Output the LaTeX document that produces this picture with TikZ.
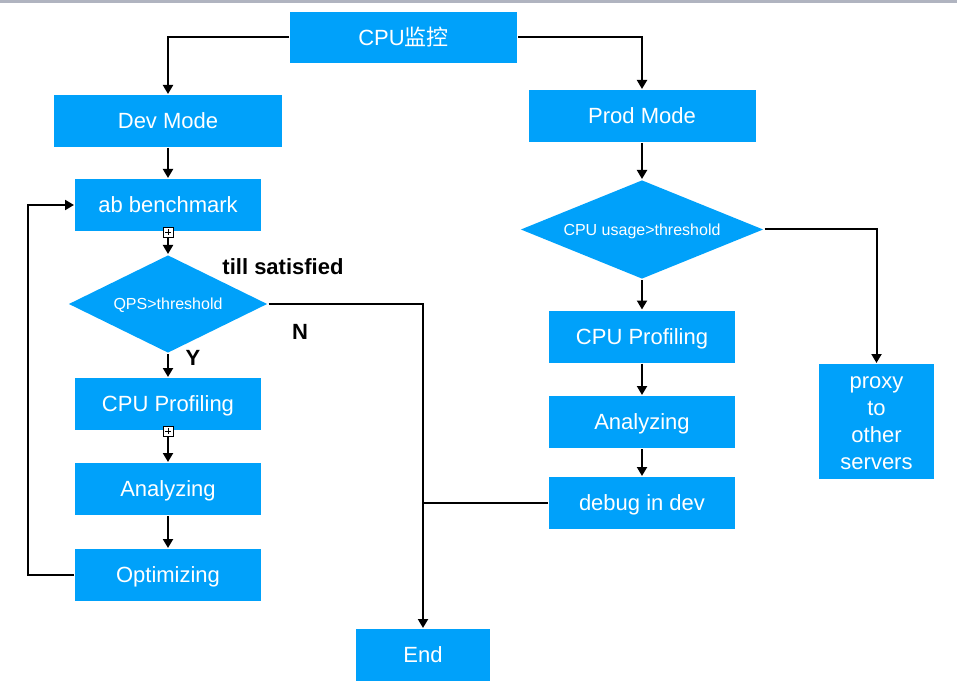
\documentclass[tikz,border=0pt]{standalone}
\usepackage{fontspec}
\setmainfont{Liberation Sans}
\newfontfamily\cjk{Noto Sans CJK SC}
\usetikzlibrary{shapes.geometric,arrows.meta}
\definecolor{boxblue}{RGB}{0,161,250}
\definecolor{topgray}{RGB}{176,180,192}

\begin{document}
\begin{tikzpicture}[x=1pt,y=-1pt,line width=2pt,>={Triangle[length=9pt,width=10pt]},
box/.style={fill=boxblue,text=white,inner sep=0pt,font=\fontsize{22}{27}\selectfont},
step box/.style={box,text height=15.8pt,text depth=0pt,minimum width=186pt,minimum height=52pt},
test/.style={diamond,aspect=2,fill=boxblue,text=white,inner sep=0pt,text height=11.5pt,text depth=0pt,font=\fontsize{16}{19}\selectfont},
note/.style={font=\fontsize{22}{26}\selectfont\bfseries},
fold/.style={draw,line width=0.8pt,fill=white,minimum size=10pt,inner sep=0pt,
path picture={\draw[line width=0.8pt] (path picture bounding box.center) +(-3pt,0) -- +(3pt,0)
(path picture bounding box.center) +(0,-3pt) -- +(0,3pt);}}]
\useasboundingbox (0,0) rectangle (957,692);
\fill[topgray] (0,0) rectangle (957,3);
\node[step box,minimum width=227pt,minimum height=51pt] (top) at (403.5,37.5) {CPU{\cjk 监控}};
\node[step box,minimum width=228pt] (dev) at (168,121) {Dev Mode};
\node[step box,minimum width=227pt] (prod) at (642,116) {Prod Mode};
\node[step box] (bench) at (168,205) {ab benchmark};
\node[test,minimum width=199pt,minimum height=98pt] (qps) at (168,304) {QPS>threshold};
\node[step box] (cpul) at (168,404) {CPU Profiling};
\node[step box] (anal) at (168,489) {Analyzing};
\node[step box] (opt) at (168,575) {Optimizing};
\node[step box,minimum width=134pt] (end) at (423,655) {End};
\node[test,minimum width=243pt,minimum height=99pt] (usage) at (642,229.5) {CPU usage>threshold};
\node[step box] (cpur) at (642,336.5) {CPU Profiling};
\node[step box] (anar) at (642,422) {Analyzing};
\node[step box] (debug) at (642,503) {debug in dev};
\node[box,minimum width=115pt,minimum height=115pt,align=center] (proxy) at (876.5,421.5) {\rule{0pt}{15.8pt}proxy\\to\\other\\servers};
\node[note] (sat) at (283,267) {till satisfied};
\node[note] (no) at (300,332) {N};
\node[note] (yes) at (193,358) {Y};
\coordinate (back) at (28,390);
\draw[->] (top.west) -| (dev.north);
\draw[->] (top.east) -| (prod.north);
\foreach \a/\b in {dev/bench,bench/qps,qps/cpul,cpul/anal,anal/opt,prod/usage,usage/cpur,cpur/anar,anar/debug}
\draw[->] (\a) -- (\b);
\draw[->] (qps.east) -| (end.north);
\draw (debug.west) -- (debug.west -| end.north);
\draw[->] (opt.west) -| (back) |- (bench.west);
\draw[->] (usage.east) -| (proxy.north);
\node[fold] (f1) at (bench.south) {};
\node[fold] (f2) at (cpul.south) {};
\end{tikzpicture}
\end{document}
